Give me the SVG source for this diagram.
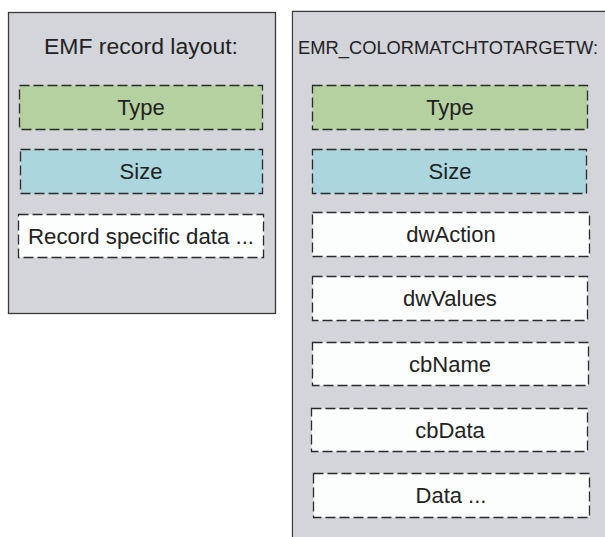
<svg xmlns="http://www.w3.org/2000/svg" width="605" height="537" viewBox="0 0 605 537">
<style>
.panel{fill:#d3d5da;stroke:#3a3a3a;stroke-width:1.3}
.box{stroke:#2b2b2b;stroke-width:1.3;stroke-dasharray:10 4}
.type{fill:#b5d1a0}
.size{fill:#acd6dd}
.data{fill:#fcfdfd}
text{font-family:"Liberation Sans",Arial,sans-serif;font-size:22px;fill:#222;text-anchor:middle}
</style>
<rect width="605" height="537" fill="#ffffff"/>
<g id="emf-layout">
<rect class="panel" x="8.5" y="12.5" width="267" height="301"/>
<text x="141" y="54" textLength="194" lengthAdjust="spacingAndGlyphs">EMF record layout:</text>
</g>
<g id="emf-type"><rect class="box type" x="19.5" y="85.5" width="243" height="44"/><text x="141" y="115">Type</text></g>
<g id="emf-size"><rect class="box size" x="20.5" y="149.5" width="242" height="44"/><text x="141" y="179">Size</text></g>
<g id="emf-data"><rect class="box data" x="18.5" y="214.5" width="245" height="43"/><text x="141" y="244" textLength="226" lengthAdjust="spacingAndGlyphs">Record specific data ...</text></g>
<g id="emr-record">
<path class="panel" d="M292.5 540 V11.5 H610"/>
<rect x="293.2" y="12.2" width="312" height="526" fill="#d3d5da"/>
<text x="448" y="54" style="font-size:18.3px" textLength="300" lengthAdjust="spacingAndGlyphs">EMR_COLORMATCHTOTARGETW:</text>
</g>
<g id="emr-type"><rect class="box type" x="312.5" y="85.5" width="275" height="44"/><text x="450" y="115">Type</text></g>
<g id="emr-size"><rect class="box size" x="312.5" y="149.5" width="274" height="44"/><text x="450" y="179">Size</text></g>
<g id="emr-dwaction"><rect class="box data" x="312.5" y="212.5" width="277" height="44"/><text x="451" y="242">dwAction</text></g>
<g id="emr-dwvalues"><rect class="box data" x="312.5" y="276.5" width="275" height="44"/><text x="450" y="306">dwValues</text></g>
<g id="emr-cbname"><rect class="box data" x="312.5" y="342.5" width="276" height="43"/><text x="450" y="372">cbName</text></g>
<g id="emr-cbdata"><rect class="box data" x="311.5" y="408.5" width="276" height="43"/><text x="450" y="438">cbData</text></g>
<g id="emr-data"><rect class="box data" x="313.5" y="473.5" width="276" height="44"/><text x="451" y="503">Data ...</text></g>
<g id="connectors"/>
</svg>
